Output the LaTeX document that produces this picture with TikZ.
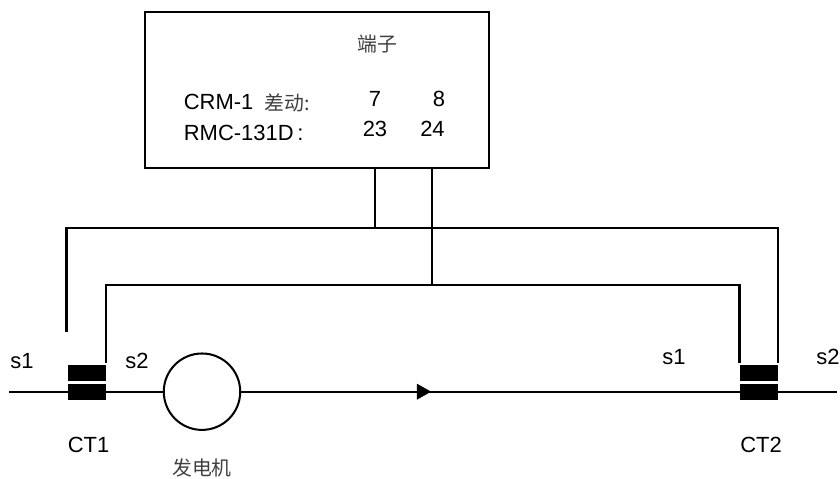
\documentclass[tikz,border=0pt]{standalone}
\usepackage{fontspec}
\setmainfont{Liberation Sans}
\newfontfamily\cjk{Noto Sans CJK SC}
\usetikzlibrary{calc,arrows.meta}
\tikzset {>=Stealth}
\tikzset{
  wire/.style={line width=1.15pt},
  ctcore/.style={fill=black,inner sep=0pt,minimum width=21.5pt,minimum height=9pt},
  lbl/.style={inner sep=0pt,font=\fontsize{12.5}{14}\selectfont},
  zh/.style={inner sep=0pt,font=\fontsize{11.3}{13}\selectfont\cjk\color{black!75}},
}

\begin{document}
\begin{tikzpicture}[x=0.02cm,y=-0.02cm]
\useasboundingbox (0,0) rectangle (840,479);
% terminal box
\node[draw,wire,inner sep=0pt,minimum width=195.5pt,minimum height=88.5pt] (relay) at (317,90) {};
\node[zh] (duanzi) at (377,44) {端子};
\node[lbl,anchor=west] (crm) at (183.5,101.5) {CRM-1};
\node[zh,anchor=west] (cd) at (264,103) {差动:};
\node[lbl,anchor=west] (rmc) at (183.5,132.5) {RMC-131D\,:};
\node[lbl] (t7) at (375,99) {7};
\node[lbl] (t8) at (439,99) {8};
\node[lbl] (t23) at (375,129) {23};
\node[lbl] (t24) at (432.5,129) {24};
% current transformers and generator
\node[ctcore] (ct1a) at (87,373) {};
\node[ctcore] (ct1b) at (87,391.7) {};
\node[ctcore] (ct2a) at (759,373) {};
\node[ctcore] (ct2b) at (759,391.7) {};
\node[draw,wire,circle,inner sep=0pt,minimum size=43.5pt] (gen) at (202,391.7) {};
% main line
\coordinate (lineL) at (9,391.7);
\coordinate (lineR) at (837,391.7);
\coordinate (arrowtip) at (431,391.7);
\draw[wire] (lineL) -- (ct1b.west);
\draw[wire] (ct1b.east) -- (gen.west);
\draw[wire] (gen.east) -- (ct2b.west);
\draw[wire] (ct2b.east) -- (lineR);
\draw[-{Triangle[length=8pt,width=9pt]},line width=0.1pt] (gen.east) -- (arrowtip);
% secondary wiring
\coordinate (busA) at (375,228);
\coordinate (busB) at (432,285);
\coordinate (endS1) at (66.5,332);
\coordinate (endS2) at (106,363);
\coordinate (endR1) at (739.5,363);
\coordinate (endR2) at (778,363);
\draw[wire] (relay.south -| busA) -- (busA);
\draw[wire] (relay.south -| busB) -- (busB);
\draw[wire] (endS1) |- (busA) -| (endR2);
\draw[wire] (endS2) |- (busB) -| (endR1);
% labels
\node[lbl] (s1a) at (22,361) {s1};
\node[lbl] (s2a) at (137,361) {s2};
\node[lbl] (s1b) at (674,357) {s1};
\node[lbl] (s2b) at (828,357) {s2};
\node[lbl] (ct1) at (88.5,445) {CT1};
\node[lbl] (ct2) at (761,445) {CT2};
\node[zh] (fdj) at (202,468) {发电机};
\end{tikzpicture}
\end{document}
